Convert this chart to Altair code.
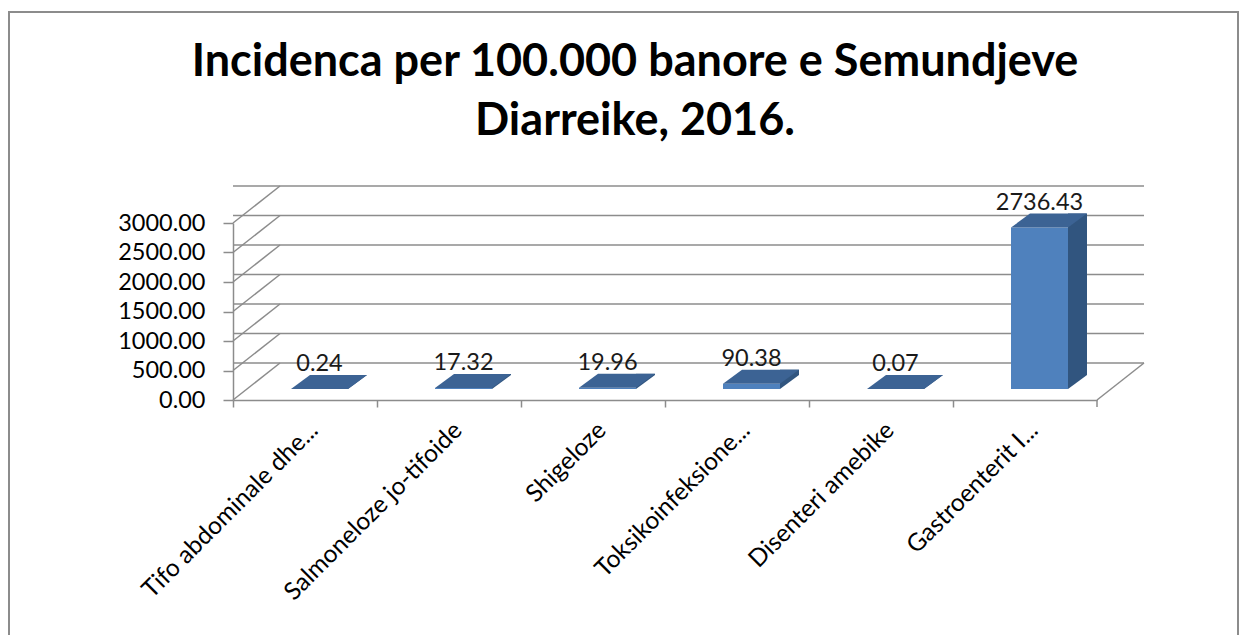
import altair as alt
import pandas as pd

# ---- data ----
categories = [
    "Tifo abdominale dhe...",
    "Salmoneloze jo-tifoide",
    "Shigeloze",
    "Toksikoinfeksione...",
    "Disenteri amebike",
    "Gastroenterit I...",
]
values = [0.24, 17.32, 19.96, 90.38, 0.07, 2736.43]
y_ticks = [0, 500, 1000, 1500, 2000, 2500, 3000]
title_lines = ["Incidenca per 100.000 banore e Semundjeve", "Diarreike, 2016."]

bars = pd.DataFrame({"cat": categories, "val": values})
grid = pd.DataFrame({"v": y_ticks})

# ---- styling ----
W, H = 864, 177
DX, DY = 47, -37          # depth of the 3-D walls (px)
BW, BDX, BDY = 57, 19, -14  # bar front width and bar depth (px)
BAR_X, BAR_Y = 14.5, -11     # bar offset inside the box
FRONT, TOP, SIDE = "#4f81bd", "#3c6394", "#31557f"
GRID = "#8c8c8c"
FONT = "Lato"
LABEL_SIZE = 23.5
CAT_SIZE = 24.5

yscale = alt.Scale(domain=[0, 3000], nice=False)
xscale = alt.Scale(paddingInner=0, paddingOuter=0)

XAX = alt.Axis(
    title=None, labelAngle=-45, labelFont=FONT, labelFontSize=CAT_SIZE,
    labelColor="#000000", bandPosition=0, tickSize=7, tickColor=GRID,
    tickWidth=1.5, domainColor=GRID, domainWidth=1.5, labelPadding=11,
    labelLimit=0, labelOffset=1,
)
YAX = alt.Axis(
    title=None, values=y_ticks, format=".2f", tickSize=10, labelPadding=18,
    labelFont=FONT, labelFontSize=LABEL_SIZE, labelColor="#000000", grid=False,
    tickColor=GRID, tickWidth=1.5, domainColor=GRID, domainWidth=1.5,
)

def xe():
    return alt.X("cat:N", sort=categories, scale=xscale, axis=XAX)

def ye(field):
    return alt.Y(field, type="quantitative", scale=yscale, axis=YAX)

# diagonal wall edge (unit path, scaled by size)
diag_path = "M0,0L1,%.4f" % (DY / DX)
diag_size = (2 * DX) ** 2

# top face parallelogram
r_top = (BW + BDX) / 2
hy = (-BDY / 2) / r_top
top_path = "M-1,{a:.4f}L{b:.4f},{a:.4f}L1,{c:.4f}L{d:.4f},{c:.4f}Z".format(
    a=hy, b=BW / r_top - 1, c=-hy, d=BDX / r_top - 1)
top_size = (2 * r_top) ** 2

# bottom triangle of the side face
r_tri = BDX / 2
ty = (-BDY / 2) / r_tri
tri_path = "M-1,{n:.4f}L-1,{p:.4f}L1,{n:.4f}Z".format(n=-ty, p=ty)
tri_size = (2 * r_tri) ** 2

frame = alt.Chart(grid).transform_filter(alt.datum.v == 0).mark_rect(
    fillOpacity=0, stroke=GRID, strokeWidth=2
).encode(
    x=alt.value(-224), x2=alt.value(W + 141),
    y=alt.value(-211), y2=alt.value(H + 300),
)

back_grid = alt.Chart(grid).mark_rule(
    color=GRID, strokeWidth=1.5, xOffset=DX, yOffset=DY
).encode(y=ye("v"))

left_diag = alt.Chart(grid).mark_point(
    shape=diag_path, size=diag_size, filled=False, stroke=GRID,
    strokeWidth=1.5, opacity=1
).encode(x=alt.value(0), y=ye("v"))

floor_grid = alt.Chart(grid).transform_filter(alt.datum.v == 0)

right_diag = floor_grid.mark_point(
    shape=diag_path, size=diag_size, filled=False, stroke=GRID,
    strokeWidth=1.5, opacity=1
).encode(x=alt.value(W), y=ye("v"))

end_tick = floor_grid.mark_point(
    shape="M0,0L0,1", size=196, filled=False, stroke=GRID,
    strokeWidth=1.5, opacity=1
).encode(x=alt.value(W), y=ye("v"))

bars_z = alt.Chart(bars).transform_calculate(zero="0")

side = alt.Chart(bars).mark_bar(
    color=SIDE, width=BDX, xOffset=BAR_X + BW / 2 + BDX / 2, yOffset=BAR_Y + BDY
).encode(x=xe(), y=ye("val"))

side_tri = bars_z.mark_point(
    shape=tri_path, size=tri_size, filled=True, fill=SIDE, strokeWidth=0,
    opacity=1, xOffset=BAR_X + BW / 2 + BDX / 2, yOffset=BAR_Y + BDY / 2
).encode(x=xe(), y=ye("zero"))

front = alt.Chart(bars).mark_bar(
    color=FRONT, width=BW, xOffset=BAR_X, yOffset=BAR_Y
).encode(x=xe(), y=ye("val"))

top = alt.Chart(bars).mark_point(
    shape=top_path, size=top_size, filled=True, fill=TOP, strokeWidth=0,
    opacity=1, xOffset=BAR_X + (BW + BDX) / 2 - BW / 2, yOffset=BAR_Y + BDY / 2
).encode(x=xe(), y=ye("val"))

labels = alt.Chart(bars).mark_text(
    font=FONT, fontSize=LABEL_SIZE, color="#1a1a1a", baseline="alphabetic",
    align="center", xOffset=BAR_X, yOffset=BAR_Y + BDY - 4
).encode(x=xe(), y=ye("val"), text=alt.Text("val:Q", format=".2f"))

chart = alt.layer(
    frame, back_grid, left_diag, right_diag, end_tick,
    side, side_tri, front, top, labels
).properties(
    width=W, height=H,
    autosize=alt.AutoSizeParams(type="none"),
    padding={"left": 225, "top": 215, "right": 143, "bottom": 235},
    title=alt.TitleParams(
        text=title_lines, font=FONT, fontSize=45, fontWeight="bold",
        color="#000000", anchor="middle", frame="group", dx=-30, offset=-133,
        lineHeight=59,
    ),
).configure(
    background="white", view=alt.ViewConfig(stroke=None)
)

chart.save("out.html", embed_options={"renderer": "svg", "actions": False})
